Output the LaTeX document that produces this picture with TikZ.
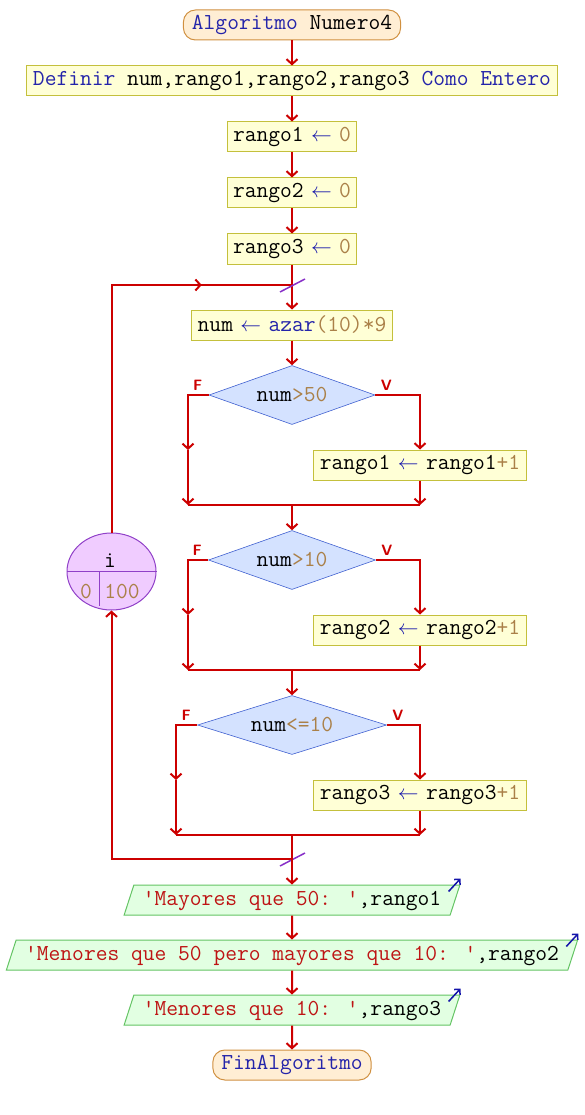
\documentclass[tikz,border=0pt]{standalone}
\usepackage{fontspec}
\usepackage{tikz}
\usetikzlibrary{arrows.meta,positioning,shapes.geometric,calc}
\definecolor{psLightOrange}{RGB}{255, 238, 212}
\definecolor{psOrange}{RGB}{208, 144, 64}
\definecolor{psLightYellow}{RGB}{255, 255, 214}
\definecolor{psYellow}{RGB}{196, 192, 60}
\definecolor{psLightBlue}{RGB}{212, 226, 255}
\definecolor{psBlue}{RGB}{64, 96, 208}
\definecolor{psLightPurple}{RGB}{240, 204, 255}
\definecolor{psPurple}{RGB}{144, 64, 200}
\definecolor{psLightGreen}{RGB}{226, 255, 226}
\definecolor{psGreen}{RGB}{100, 196, 100}
\definecolor{psRed}{RGB}{204, 0, 0}
\definecolor{psKeyword}{RGB}{36, 36, 170}
\definecolor{psNumber}{RGB}{170, 128, 72}
\definecolor{psString}{RGB}{190, 20, 20}
\definecolor{psSlash}{RGB}{136, 48, 200}
\definecolor{psOut}{RGB}{20, 20, 170}
\newcommand{\kw}[1]{\textcolor{psKeyword}{#1}}
\newcommand{\nm}[1]{\textcolor{psNumber}{#1}}
\newcommand{\cadena}[1]{\textcolor{psString}{#1}}
\newcommand{\asig}{\makebox[12pt][c]{\textcolor{psOut}{\fontsize{21}{24}\selectfont$\leftarrow$}}}

\begin{document}
\begin{tikzpicture}[
  x=1pt, y=-1pt,
  node distance=25pt,
  font=\fontsize{22.86}{26}\selectfont\ttfamily,
  terminal/.style={draw=psOrange, fill=psLightOrange, rounded corners=12pt,
                   minimum height=30pt, inner xsep=8.5pt, inner ysep=0pt, line width=1pt},
  proc/.style={draw=psYellow, fill=psLightYellow, minimum height=30pt,
               inner xsep=6pt, inner ysep=0pt, line width=1pt},
  decision/.style={diamond, aspect=3, draw=psBlue, fill=psLightBlue, inner sep=0pt,
                   minimum height=59pt, line width=0.6pt},
  salida/.style={trapezium, trapezium left angle=72, trapezium right angle=108,
                 draw=psGreen, fill=psLightGreen, text height=16pt, text depth=6pt,
                 inner xsep=9pt, inner ysep=4pt, line width=1pt},
  ciclo/.style={ellipse, draw=psPurple, fill=psLightPurple, minimum width=89pt,
                minimum height=77pt, inner sep=0pt, line width=1pt},
  flow/.style={-{Straight Barb[length=5pt,width=11pt]}, draw=psRed, line width=2pt},
  line/.style={draw=psRed, line width=2pt},
  lab/.style={text=psRed, font=\sffamily\bfseries\fontsize{15}{16}\selectfont},
  slash/.style={draw=psSlash, line width=1.5pt},
  outarrow/.style={-{Straight Barb[length=4pt,width=8pt]}, draw=psOut, line width=1.5pt}
]
\useasboundingbox (0,0) rectangle (584,1115);

\node[terminal] (inicio) at (292,25) {\kw{Algoritmo} Numero4};
\node[proc, below=of inicio] (definir) {\kw{Definir} num,rango1,rango2,rango3 \kw{Como Entero}};
\node[proc, below=of definir] (r1) {rango1 \asig{} \nm{0}};
\node[proc, below=of r1] (r2) {rango2 \asig{} \nm{0}};
\node[proc, below=of r2] (r3) {rango3 \asig{} \nm{0}};
\coordinate (jtop) at (292,285);
\node[proc] (azar) at (292,325) {num \asig{} \kw{azar}\nm{(10)*9}};

\node[decision, minimum width=166pt] (d1) at (292,395) {num\nm{>50}};
\node[proc] (s1) at (420,465) {rango1 \asig{} rango1\nm{+1}};
\coordinate (m1) at (292,505);
\node[decision, minimum width=167pt] (d2) at (292,560) {num\nm{>10}};
\node[proc] (s2) at (420,630) {rango2 \asig{} rango2\nm{+1}};
\coordinate (m2) at (292,670);
\node[decision, minimum width=189pt] (d3) at (292,725) {num\nm{<=10}};
\node[proc] (s3) at (420,795) {rango3 \asig{} rango3\nm{+1}};
\coordinate (m3) at (292,835);
\coordinate (jbot) at (292,859);

\node[lab] (d1F) at ($(d1.west)+(-11,-10)$) {F};
\node[lab] (d1V) at ($(d1.east)+(11,-10)$) {V};
\node[lab] (d2F) at ($(d2.west)+(-11,-10)$) {F};
\node[lab] (d2V) at ($(d2.east)+(11,-10)$) {V};
\node[lab] (d3F) at ($(d3.west)+(-11,-10)$) {F};
\node[lab] (d3V) at ($(d3.east)+(11,-10)$) {V};

% ciclo para
\node[ciclo] (ciclo) at (111.5,571.5) {};
\draw[psPurple, line width=1pt] (ciclo.west) -- (ciclo.east);
\draw[psPurple, line width=1pt] (99,572) -- (99,606);
\node[anchor=base, inner sep=0pt] (var) at (110,567) {i};
\node[anchor=base, inner sep=0pt] (desde) at (86,598) {\nm{0}};
\node[anchor=base, inner sep=0pt] (hasta) at (122,598) {\nm{100}};

\node[salida] (o1) at (292,900) {\cadena{'Mayores que 50: '},rango1};
\node[salida] (o2) at (292,955) {\cadena{'Menores que 50 pero mayores que 10: '},rango2};
\node[salida] (o3) at (292,1010) {\cadena{'Menores que 10: '},rango3};
\node[terminal] (fin) at (292,1065) {\kw{FinAlgoritmo}};

\draw[flow] (inicio) -- (definir);
\draw[flow] (definir) -- (r1);
\draw[flow] (r1) -- (r2);
\draw[flow] (r2) -- (r3);
\draw[flow] (r3) -- (azar);
\draw[flow] (azar) -- (d1);

% si num>50
\coordinate (f1) at (188,450);
\draw[flow] (d1.west) -| (f1);
\draw[flow] (f1) -- (f1 |- m1);
\draw[flow] (d1.east) -| (s1.north);
\draw[flow] (s1) -- (s1 |- m1);
\draw[line] (f1 |- m1) -- (s1 |- m1);
\draw[flow] (m1) -- (d2);

% si num>10
\coordinate (f2) at (188,615);
\draw[flow] (d2.west) -| (f2);
\draw[flow] (f2) -- (f2 |- m2);
\draw[flow] (d2.east) -| (s2.north);
\draw[flow] (s2) -- (s2 |- m2);
\draw[line] (f2 |- m2) -- (s2 |- m2);
\draw[flow] (m2) -- (d3);

% si num<=10
\coordinate (f3) at (176,780);
\draw[flow] (d3.west) -| (f3);
\draw[flow] (f3) -- (f3 |- m3);
\draw[flow] (d3.east) -| (s3.north);
\draw[flow] (s3) -- (s3 |- m3);
\draw[line] (f3 |- m3) -- (s3 |- m3);

% vuelta del ciclo
\draw[line] (ciclo.north) |- (jtop);
\draw[flow] (ciclo.north |- jtop) -- ($(ciclo.north |- jtop)!0.5!(jtop)$);
\draw[flow] (jbot) -| (ciclo.south);
\draw[slash] ($(jtop)+(-12,7)$) -- ++(25,-13);
\draw[slash] ($(jbot)+(-12,7)$) -- ++(25,-13);

\draw[flow] (m3) -- (o1);
\draw[flow] (o1) -- (o2);
\draw[flow] (o2) -- (o3);
\draw[flow] (o3) -- (fin);
\draw[outarrow] ($(o1.top right corner)+(-12,7)$) -- ++(12,-13);
\draw[outarrow] ($(o2.top right corner)+(-12,7)$) -- ++(12,-13);
\draw[outarrow] ($(o3.top right corner)+(-12,7)$) -- ++(12,-13);
\end{tikzpicture}
\end{document}
